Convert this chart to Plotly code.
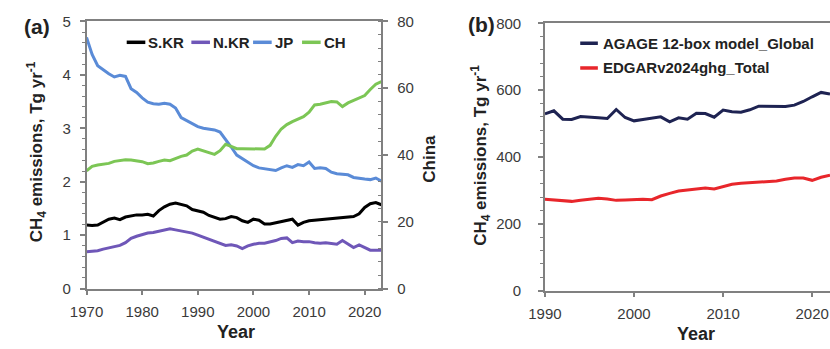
import plotly.graph_objects as go

# ---------------- data ----------------
years_a = list(range(1970, 2024))
skr = [1.19, 1.18, 1.19, 1.25, 1.30, 1.32, 1.29, 1.34, 1.36, 1.38,
       1.38, 1.39, 1.36, 1.46, 1.53, 1.58, 1.60, 1.58, 1.55, 1.48,
       1.46, 1.43, 1.37, 1.33, 1.30, 1.31, 1.35, 1.33, 1.27, 1.24,
       1.30, 1.28, 1.21, 1.21, 1.23, 1.25, 1.28, 1.30, 1.19, 1.24,
       1.27, 1.28, 1.30, 1.30, 1.31, 1.33, 1.33, 1.34, 1.35, 1.40,
       1.52, 1.59, 1.61, 1.57]
nkr = [0.69, 0.70, 0.71, 0.74, 0.76, 0.78, 0.81, 0.86, 0.94, 0.98,
       1.01, 1.04, 1.05, 1.07, 1.10, 1.12, 1.10, 1.08, 1.06, 1.04,
       1.00, 0.96, 0.92, 0.88, 0.84, 0.81, 0.82, 0.80, 0.75, 0.80,
       0.83, 0.85, 0.85, 0.87, 0.90, 0.94, 0.95, 0.86, 0.89, 0.88,
       0.88, 0.86, 0.85, 0.86, 0.85, 0.83, 0.90, 0.84, 0.77, 0.82,
       0.77, 0.72, 0.72, 0.72]
jp = [4.70, 4.38, 4.17, 4.09, 4.02, 3.96, 3.99, 3.97, 3.74, 3.67,
      3.57, 3.49, 3.46, 3.45, 3.47, 3.45, 3.38, 3.20, 3.14, 3.08,
      3.03, 3.00, 2.98, 2.97, 2.93, 2.80, 2.65, 2.50, 2.43, 2.37,
      2.30, 2.26, 2.24, 2.22, 2.21, 2.26, 2.30, 2.27, 2.32, 2.30,
      2.37, 2.25, 2.26, 2.25, 2.18, 2.15, 2.14, 2.13, 2.08, 2.06,
      2.05, 2.04, 2.07, 2.01]
ch = [35.3, 36.6, 37.0, 37.2, 37.5, 38.1, 38.4, 38.6, 38.5, 38.3,
      38.0, 37.4, 37.6, 38.1, 38.5, 38.3, 39.0, 39.6, 40.0, 41.2,
      41.8, 41.3, 40.8, 40.2, 41.3, 43.2, 42.6, 41.9, 41.9, 41.9,
      41.8, 41.8, 41.8, 42.9, 45.6, 47.8, 49.1, 50.0, 50.8, 51.5,
      52.8, 55.0, 55.2, 55.6, 56.0, 55.9, 54.5, 55.6, 56.3, 56.9,
      57.8, 59.6, 61.2, 62.0]

years_b = list(range(1990, 2023))
agage = [529, 538, 513, 512, 521, 518, 517, 515, 542, 518,
         508, 512, 515, 520, 505, 517, 513, 531, 530, 519,
         540, 535, 534, 541, 552, 551, 550, 551, 555, 566,
         580, 593, 588]
edgar = [273, 271, 270, 267, 270, 274, 276, 274, 270, 271,
         273, 273, 272, 283, 291, 298, 301, 305, 307, 304,
         310, 318, 321, 323, 325, 326, 328, 333, 337, 337,
         330, 339, 345]

names_a = ["S.KR", "N.KR", "JP", "CH"]
names_b = ["AGAGE 12-box model_Global", "EDGARv2024ghg_Total"]

# ---------------- style ----------------
W, H = 830, 349
FONT = "Liberation Sans, Arial, sans-serif"
C_SKR, C_NKR, C_JP, C_CH = "#000000", "#6f57b8", "#5a8bd7", "#7cc655"
C_AG, C_ED = "#1e2352", "#e8262b"
AX = "#808080"
TXT = "#3a3a3a"
LW = 3


def px_x(p):
    return p / W


def px_y(p):
    return 1 - p / H


fig = go.Figure()
fig.add_trace(go.Scatter(x=years_a, y=skr, name=names_a[0], mode="lines",
                         line=dict(color=C_SKR, width=LW), xaxis="x", yaxis="y"))
fig.add_trace(go.Scatter(x=years_a, y=nkr, name=names_a[1], mode="lines",
                         line=dict(color=C_NKR, width=LW), xaxis="x", yaxis="y"))
fig.add_trace(go.Scatter(x=years_a, y=jp, name=names_a[2], mode="lines",
                         line=dict(color=C_JP, width=LW), xaxis="x", yaxis="y"))
fig.add_trace(go.Scatter(x=years_a, y=ch, name=names_a[3], mode="lines",
                         line=dict(color=C_CH, width=LW), xaxis="x", yaxis="y2"))
fig.add_trace(go.Scatter(x=years_b, y=agage, name=names_b[0], mode="lines",
                         line=dict(color=C_AG, width=LW), xaxis="x2", yaxis="y3"))
fig.add_trace(go.Scatter(x=years_b, y=edgar, name=names_b[1], mode="lines",
                         line=dict(color=C_ED, width=LW), xaxis="x2", yaxis="y3"))

tickfont = dict(family=FONT, size=15, color=TXT)
common_x = dict(showline=True, linecolor=AX, linewidth=1.5, mirror=True,
                ticks="outside", ticklen=5, tickcolor=AX, tickwidth=1.5,
                dtick=10, showgrid=False, zeroline=False, tickfont=tickfont,
                ticklabelstandoff=4)
common_y = dict(showline=True, linecolor=AX, linewidth=1.5,
                ticks="outside", ticklen=5, tickcolor=AX, tickwidth=1.5,
                showgrid=False, zeroline=False, tickfont=tickfont)

fig.update_layout(
    width=W, height=H,
    margin=dict(l=0, r=0, t=0, b=0),
    paper_bgcolor="white", plot_bgcolor="white",
    showlegend=False,
    font=dict(family=FONT, color=TXT),
    xaxis=dict(common_x, domain=[px_x(71), px_x(372)], range=[1970, 2023],
               anchor="y", tick0=1970),
    yaxis=dict(common_y, domain=[px_y(294), px_y(13)], range=[0, 5], dtick=1,
               anchor="x", ticklabelstandoff=6,
               minor=dict(dtick=0.2, ticks="outside", ticklen=3, tickcolor=AX, tickwidth=1)),
    yaxis2=dict(common_y, overlaying="y", side="right", range=[0, 80], dtick=20,
                anchor="x", ticklabelstandoff=6,
                minor=dict(dtick=4, ticks="inside", ticklen=4, tickcolor=AX, tickwidth=1)),
    xaxis2=dict(common_x, domain=[px_x(539), 1.0], range=[1990, 2022],
                anchor="y3", tick0=1990),
    yaxis3=dict(common_y, domain=[px_y(296), px_y(15)], range=[0, 800], dtick=200,
                anchor="x2", ticklabelstandoff=14,
                minor=dict(dtick=40, ticks="outside", ticklen=3, tickcolor=AX, tickwidth=1)),
)

ann = []


def add_text(text, x, y, size=17, angle=0, xanchor="center", bold=True):
    ann.append(dict(text=("<b>%s</b>" % text) if bold else text,
                    x=px_x(x), y=px_y(y), xref="paper", yref="paper",
                    showarrow=False, textangle=angle, xanchor=xanchor, yanchor="middle",
                    font=dict(family=FONT, size=size, color="#222222")))


ytitle = "CH<sub>4</sub> emissions, Tg yr<sup>-1</sup>"
add_text(ytitle, 20, 150, size=17, angle=-90)
add_text("China", 421, 157, size=17, angle=-90)
add_text(ytitle, 473, 154, size=17, angle=-90)
add_text("Year", 224, 340, size=18)
add_text("Year", 693, 342, size=18)
add_text("(a)", 20, 18, size=21)
add_text("(b)", 474, 16, size=21)

# manual legends (short line keys like the original)
shapes = []
leg_a = [(112, 133, names_a[0], C_SKR), (178, 199, names_a[1], C_NKR),
         (241, 262, names_a[2], C_JP), (291, 312, names_a[3], C_CH)]
for x0, xt, name, col in leg_a:
    shapes.append(dict(type="line", xref="paper", yref="paper",
                       x0=px_x(x0), x1=px_x(x0 + 19), y0=px_y(35), y1=px_y(35),
                       line=dict(color=col, width=3.5)))
    add_text(name, xt - 1, 35, size=15, xanchor="left")

leg_b = [(575, 36, names_b[0], C_AG), (575, 62, names_b[1], C_ED)]
for x0, yy, name, col in leg_b:
    shapes.append(dict(type="line", xref="paper", yref="paper",
                       x0=px_x(x0), x1=px_x(x0 + 18), y0=px_y(yy), y1=px_y(yy),
                       line=dict(color=col, width=3.5)))
    add_text(name, 596, yy, size=15, xanchor="left")

fig.update_layout(annotations=ann, shapes=shapes)
fig.write_html("out.html")
